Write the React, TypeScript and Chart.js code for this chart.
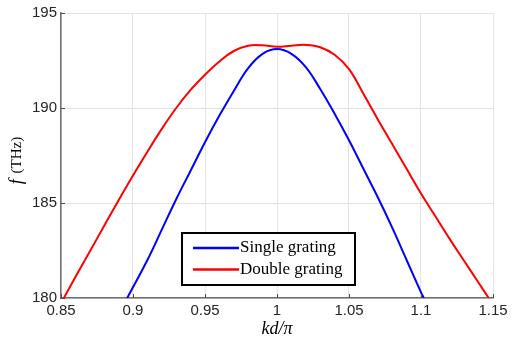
import React, { useEffect, useRef } from "react";
import { Chart, registerables } from "chart.js";

Chart.register(...registerables);

const singleX = [0.896, 0.91, 0.92, 0.93, 0.94, 0.95, 0.96, 0.97, 0.98, 0.99, 1.0, 1.01, 1.02, 1.03, 1.04, 1.05, 1.06, 1.07, 1.08, 1.09, 1.1, 1.102];
const singleY = [180, 182.0, 183.6, 185.2, 186.7, 188.2, 189.6, 190.9, 192.1, 192.85, 193.1, 192.85, 192.15, 191.0, 189.7, 188.3, 186.8, 185.3, 183.7, 182.0, 180.3, 180];

const doubleX = [0.852, 0.86, 0.87, 0.88, 0.89, 0.9, 0.91, 0.92, 0.93, 0.94, 0.95, 0.96, 0.97, 0.98, 0.99, 1.0, 1.01, 1.02, 1.03, 1.04, 1.05, 1.06, 1.07, 1.08, 1.09, 1.1, 1.11, 1.12, 1.13, 1.14, 1.147];
const doubleY = [180, 181.1, 182.45, 183.8, 185.15, 186.45, 187.7, 188.9, 190.0, 190.95, 191.75, 192.45, 193.0, 193.28, 193.3, 193.22, 193.28, 193.32, 193.2, 192.8, 192.05, 190.75, 189.4, 188.1, 186.8, 185.5, 184.3, 183.1, 181.95, 180.8, 180];

const seriesLabels = ["Single grating", "Double grating"];
const seriesColors = ["#0000ff", "#ff0000"];

const xMin = 0.85, xMax = 1.15, xStep = 0.05;
const yMin = 180, yMax = 195, yStep = 5;

const toPoints = (xs: number[], ys: number[]) => xs.map((x, i) => ({ x, y: ys[i] }));

const overlayPlugin = {
  id: "overlay",
  afterDraw(chart: any) {
    const ctx = chart.ctx;
    const a = chart.chartArea;
    const xs = chart.scales.x;
    const ys = chart.scales.y;
    ctx.save();
    // inward tick marks
    ctx.strokeStyle = "#4d4d4d";
    ctx.lineWidth = 1;
    xs.ticks.forEach((t: any) => {
      const px = Math.round(xs.getPixelForValue(t.value)) + 0.5;
      ctx.beginPath();
      ctx.moveTo(px, a.bottom);
      ctx.lineTo(px, a.bottom - 4);
      ctx.stroke();
    });
    ys.ticks.forEach((t: any) => {
      const py = Math.round(ys.getPixelForValue(t.value)) + 0.5;
      ctx.beginPath();
      ctx.moveTo(a.left, py);
      ctx.lineTo(a.left + 4, py);
      ctx.stroke();
    });
    // x title
    ctx.fillStyle = "#000";
    ctx.textAlign = "center";
    ctx.textBaseline = "middle";
    ctx.font = "italic 18px 'Liberation Serif'";
    ctx.fillText("kd/π", (a.left + a.right) / 2, 329);
    // y title
    ctx.translate(17, (a.top + a.bottom) / 2 + 6);
    ctx.rotate(-Math.PI / 2);
    ctx.textBaseline = "middle";
    ctx.font = "italic 18px 'Liberation Serif'";
    const fw = ctx.measureText("f").width;
    ctx.font = "15px 'Liberation Serif'";
    const rest = " (THz)";
    const rw = ctx.measureText(rest).width;
    const start = -(fw + rw) / 2;
    ctx.textAlign = "left";
    ctx.font = "italic 18px 'Liberation Serif'";
    ctx.fillText("f", start, 0);
    ctx.font = "15px 'Liberation Serif'";
    ctx.fillText(rest, start + fw + 2, 0);
    ctx.restore();

    // legend
    ctx.save();
    const bx = a.left + 121, by = a.top + 220, bw = 173, bh = 52;
    ctx.fillStyle = "#fff";
    ctx.fillRect(bx, by, bw, bh);
    ctx.strokeStyle = "#000";
    ctx.lineWidth = 2;
    ctx.strokeRect(bx, by, bw, bh);
    ctx.font = "17px 'Liberation Serif'";
    ctx.textBaseline = "middle";
    ctx.textAlign = "left";
    seriesLabels.forEach((lab, i) => {
      const cy = by + 15 + i * 21.5;
      ctx.strokeStyle = seriesColors[i];
      ctx.lineWidth = 2.5;
      ctx.beginPath();
      ctx.moveTo(bx + 11, cy);
      ctx.lineTo(bx + 57, cy);
      ctx.stroke();
      ctx.fillStyle = "#000";
      ctx.fillText(lab, bx + 58, cy);
    });
    ctx.restore();
  },
};

export default function App() {
  const ref = useRef<HTMLCanvasElement>(null);
  useEffect(() => {
    if (!ref.current) return;
    const chart = new Chart(ref.current, {
      type: "line",
      data: {
        datasets: [
          {
            label: seriesLabels[0],
            data: toPoints(singleX, singleY),
            borderColor: seriesColors[0],
            borderWidth: 2,
            pointRadius: 0,
            tension: 0.4,
            fill: false,
          },
          {
            label: seriesLabels[1],
            data: toPoints(doubleX, doubleY),
            borderColor: seriesColors[1],
            borderWidth: 2,
            pointRadius: 0,
            tension: 0.4,
            fill: false,
          },
        ],
      },
      options: {
        animation: false,
        responsive: false,
        maintainAspectRatio: false,
        layout: { padding: { left: 0, right: 25, top: 10, bottom: 0 } },
        plugins: { legend: { display: false }, tooltip: { enabled: false } },
        scales: {
          x: {
            type: "linear",
            min: xMin,
            max: xMax,
            ticks: {
              stepSize: xStep,
              color: "#262626",
              font: { family: "'Liberation Sans'", size: 15 },
              padding: 4,
              maxRotation: 0,
              callback: (v: any) => String(Number(Number(v).toFixed(2))),
            },
            grid: { color: "#e3e3e3", drawTicks: false, lineWidth: 1 },
            border: { color: "#6e6e6e", width: 1.5 },
            afterFit: (s: any) => { s.height = 43; },
          },
          y: {
            type: "linear",
            min: yMin,
            max: yMax,
            ticks: {
              stepSize: yStep,
              color: "#262626",
              font: { family: "'Liberation Sans'", size: 15 },
              padding: 4,
            },
            grid: { color: "#e3e3e3", drawTicks: false, lineWidth: 1 },
            border: { color: "#6e6e6e", width: 1.5 },
            afterFit: (s: any) => { s.width = 61; },
          },
        },
      },
      plugins: [overlayPlugin],
    });
    return () => chart.destroy();
  }, []);
  return (
    <div style={{ position: "fixed", left: 0, top: 0, width: 518, height: 341, background: "#fff" }}>
      <canvas ref={ref} width={518} height={341} style={{ width: 518, height: 341 }} />
    </div>
  );
}
